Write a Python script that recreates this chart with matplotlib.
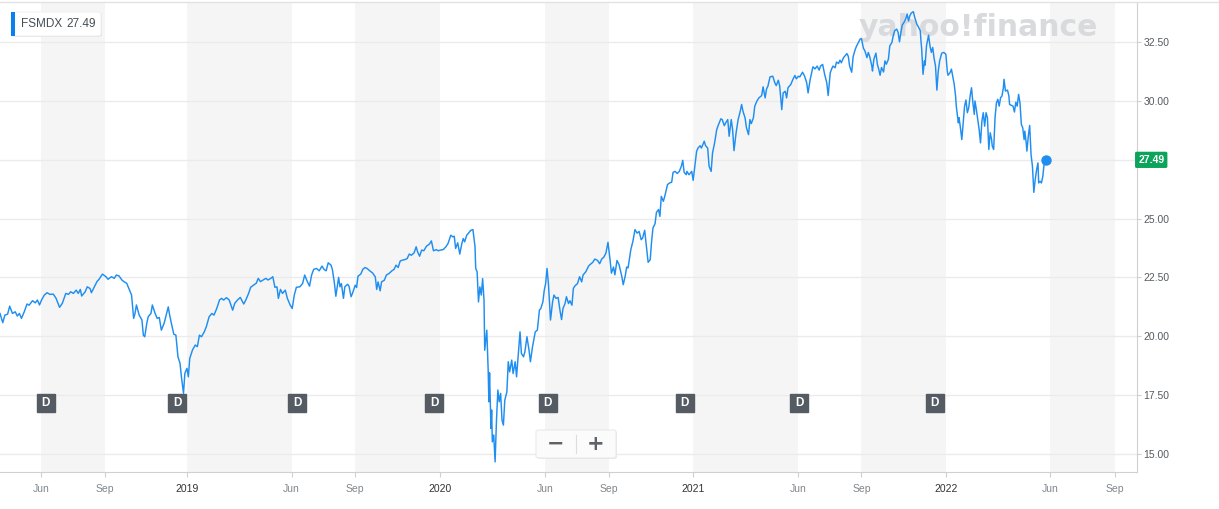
"""FSMDX price chart, Yahoo Finance style."""
import pandas as pd, numpy as np
import matplotlib; matplotlib.use('Agg'); import matplotlib.pyplot as plt
from matplotlib.patches import FancyBboxPatch, Rectangle
from matplotlib.transforms import blended_transform_factory
from matplotlib.lines import Line2D

W, H = 1219, 509
BLUE = '#1f8ef1'; GREEN = '#0ca35a'; BAND = '#f5f5f5'; GRID = '#ebebeb'; SPINE = '#d0d0d0'
plt.rcParams.update({'font.family': ['Liberation Sans', 'DejaVu Sans'], 'font.size': 8})

# ---- data ----
ticker = 'FSMDX'
last_price = 27.49
start = pd.Timestamp('2018-04-06')
day_offset = [
    0, 4, 7, 11, 14, 18, 22, 25, 28, 31, 35, 39, 42, 47, 51, 54, 57, 60, 64, 68, 72, 77, 81, 86, 90, 95, 99, 102, 106, 110,
    113, 116, 118, 123, 126, 130, 132, 136, 140, 143, 148, 153, 156, 161, 165, 168, 172, 176, 179, 183, 187, 190, 193, 195,
    197, 201, 205, 207, 209, 212, 214, 218, 220, 224, 227, 230, 233, 237, 240, 243, 245, 248, 251, 254, 257, 260, 262, 265,
    267, 270, 272, 274, 278, 282, 285, 288, 291, 295, 298, 302, 306, 309, 313, 317, 320, 323, 327, 331, 336, 339, 343, 347,
    349, 352, 355, 359, 362, 366, 370, 373, 376, 380, 384, 387, 391, 394, 397, 400, 402, 405, 408, 412, 415, 419, 422, 425,
    428, 433, 437, 440, 444, 447, 450, 453, 457, 461, 465, 468, 471, 474, 478, 480, 483, 485, 489, 491, 493, 496, 498, 502,
    504, 507, 509, 513, 515, 517, 521, 524, 527, 530, 534, 538, 542, 544, 546, 549, 551, 555, 558, 562, 566, 569, 572, 575,
    578, 581, 585, 588, 591, 594, 598, 601, 603, 606, 609, 612, 616, 620, 623, 626, 630, 633, 636, 640, 644, 647, 651, 654,
    656, 658, 661, 664, 667, 669, 671, 674, 676, 680, 683, 686, 687, 689, 691, 693, 695, 697, 699, 700, 703, 705, 706, 707,
    709, 710, 711, 713, 715, 717, 719, 721, 723, 725, 727, 729, 732, 734, 736, 739, 741, 744, 746, 748, 751, 753, 756, 758,
    761, 764, 766, 769, 773, 776, 779, 781, 784, 786, 788, 790, 792, 795, 798, 800, 803, 806, 809, 811, 813, 816, 818, 821,
    823, 826, 828, 830, 834, 837, 840, 842, 846, 850, 852, 856, 859, 863, 866, 869, 872, 875, 878, 881, 883, 886, 888, 891,
    894, 898, 900, 903, 905, 907, 911, 914, 917, 920, 923, 926, 928, 931, 933, 936, 939, 941, 943, 946, 948, 951, 953, 955,
    958, 960, 964, 967, 970, 972, 975, 978, 981, 984, 986, 988, 991, 992, 995, 999, 1001, 1004, 1006, 1008, 1011, 1013, 1017,
    1019, 1022, 1024, 1027, 1029, 1032, 1035, 1037, 1041, 1043, 1046, 1048, 1051, 1053, 1056, 1058, 1060, 1063, 1066, 1069,
    1071, 1073, 1076, 1078, 1081, 1083, 1085, 1088, 1090, 1093, 1096, 1100, 1102, 1105, 1107, 1109, 1112, 1116, 1119, 1121,
    1124, 1126, 1129, 1131, 1134, 1136, 1138, 1142, 1145, 1148, 1150, 1153, 1155, 1159, 1162, 1165, 1167, 1170, 1172, 1174,
    1177, 1180, 1183, 1185, 1188, 1191, 1194, 1196, 1199, 1201, 1203, 1206, 1208, 1211, 1213, 1215, 1218, 1220, 1223, 1225,
    1227, 1230, 1232, 1235, 1237, 1239, 1242, 1244, 1247, 1249, 1252, 1254, 1256, 1259, 1260, 1262, 1265, 1267, 1269, 1271,
    1273, 1276, 1278, 1280, 1283, 1285, 1288, 1290, 1292, 1295, 1297, 1299, 1301, 1303, 1306, 1308, 1310, 1312, 1314, 1316,
    1319, 1321, 1324, 1326, 1329, 1330, 1331, 1333, 1335, 1336, 1338, 1341, 1343, 1345, 1347, 1349, 1351, 1353, 1355, 1357,
    1360, 1363, 1366, 1368, 1369, 1372, 1374, 1376, 1378, 1380, 1381, 1384, 1385, 1387, 1389, 1391, 1393, 1395, 1397, 1399,
    1401, 1403, 1405, 1407, 1408, 1410, 1412, 1414, 1416, 1418, 1420, 1422, 1424, 1426, 1428, 1430, 1432, 1433, 1435, 1437,
    1439, 1441, 1443, 1445, 1447, 1449, 1450, 1452, 1455, 1457, 1458, 1461, 1463, 1465, 1467, 1469, 1471, 1473, 1475, 1477,
    1479, 1480, 1482, 1483, 1485, 1487, 1489, 1491, 1493, 1495, 1497, 1499, 1500, 1502, 1504, 1506, 1508, 1510]
price = [
    20.97, 20.58, 20.90, 20.94, 21.28, 20.97, 21.04, 20.86, 20.97, 20.76, 21.04, 21.37, 21.32, 21.51, 21.42, 21.54, 21.33,
    21.54, 21.75, 21.85, 21.78, 21.79, 21.61, 21.23, 21.40, 21.82, 21.78, 21.89, 21.82, 21.96, 21.82, 21.99, 21.71, 21.89,
    22.10, 22.03, 21.85, 22.08, 22.32, 22.42, 22.64, 22.53, 22.42, 22.53, 22.46, 22.60, 22.56, 22.39, 22.32, 22.25, 21.96,
    21.75, 20.76, 20.97, 21.33, 20.90, 20.69, 20.05, 19.98, 20.55, 20.83, 20.97, 21.33, 20.97, 20.76, 20.80, 20.26, 20.55,
    20.90, 21.25, 20.90, 20.48, 20.09, 20.05, 19.13, 18.85, 18.28, 17.58, 18.43, 18.64, 18.28, 19.06, 19.42, 19.63, 19.56,
    20.05, 19.98, 20.19, 20.41, 20.83, 20.97, 20.90, 21.18, 21.54, 21.61, 21.54, 21.64, 21.54, 21.11, 21.40, 21.54, 21.65,
    21.54, 21.37, 21.54, 21.82, 22.08, 22.17, 22.25, 22.46, 22.32, 22.39, 22.46, 22.39, 22.46, 22.53, 22.08, 22.10, 21.61,
    21.99, 21.82, 21.96, 21.61, 21.33, 21.18, 21.75, 22.08, 22.10, 22.24, 22.60, 22.31, 22.13, 22.60, 22.84, 22.88, 22.78,
    22.98, 22.84, 22.78, 23.12, 23.02, 22.84, 22.24, 21.70, 22.50, 22.10, 22.24, 21.61, 22.10, 22.21, 22.13, 21.68, 21.82,
    22.17, 22.07, 22.55, 22.64, 22.84, 22.92, 22.88, 22.78, 22.69, 22.52, 21.99, 22.31, 21.93, 22.31, 22.38, 22.60, 22.67,
    22.78, 22.84, 23.02, 22.92, 23.20, 23.23, 23.26, 23.30, 23.49, 23.44, 23.54, 23.80, 23.59, 23.40, 23.66, 23.63, 23.83,
    23.91, 24.05, 23.63, 23.68, 23.63, 23.66, 23.68, 23.80, 23.94, 24.29, 24.22, 24.25, 23.73, 23.97, 23.49, 23.94, 24.15,
    24.01, 24.29, 24.36, 24.50, 24.53, 23.80, 22.88, 22.74, 21.46, 22.10, 21.75, 22.45, 21.53, 19.41, 20.26, 18.56, 17.22,
    18.45, 16.09, 16.87, 15.52, 15.81, 14.67, 16.44, 17.72, 17.22, 17.58, 16.44, 16.23, 17.29, 17.64, 18.92, 18.49, 18.99,
    18.42, 18.92, 18.28, 19.06, 20.19, 19.27, 19.13, 19.34, 19.98, 19.41, 18.92, 19.55, 20.19, 20.26, 21.11, 21.18, 21.46,
    21.96, 22.24, 22.88, 22.24, 20.69, 21.46, 21.75, 21.61, 21.65, 21.04, 20.71, 21.18, 21.39, 21.68, 21.39, 21.51, 21.32,
    22.03, 22.13, 22.24, 22.53, 22.31, 22.60, 22.74, 22.98, 23.04, 23.14, 23.28, 23.22, 23.08, 23.28, 23.36, 23.53, 23.99,
    23.25, 22.68, 22.94, 22.61, 23.22, 23.04, 22.54, 22.19, 22.57, 22.94, 22.90, 23.68, 24.03, 24.53, 24.38, 24.45, 24.10,
    24.17, 24.50, 23.96, 23.14, 23.25, 24.03, 24.60, 24.78, 25.26, 25.38, 25.09, 25.94, 25.73, 25.94, 26.44, 26.51, 26.54,
    26.96, 27.00, 26.91, 27.00, 27.22, 27.47, 26.96, 26.86, 27.00, 26.86, 27.00, 26.62, 27.36, 27.85, 27.99, 28.09, 27.99,
    28.28, 28.09, 27.99, 27.22, 27.00, 27.78, 28.21, 28.77, 28.94, 29.23, 29.20, 28.94, 29.06, 29.20, 28.49, 29.20, 28.77,
    27.88, 28.63, 29.20, 29.55, 29.84, 29.55, 29.27, 28.85, 28.56, 29.20, 29.03, 29.27, 29.77, 29.98, 30.12, 30.22, 30.59,
    30.12, 30.50, 30.62, 31.01, 31.04, 30.76, 30.64, 30.87, 30.62, 29.62, 30.33, 30.40, 30.12, 30.55, 30.69, 30.90, 31.07,
    30.93, 31.04, 31.01, 31.21, 31.04, 30.76, 30.33, 30.90, 31.18, 31.44, 31.35, 31.47, 31.30, 31.47, 31.54, 31.11, 30.76,
    30.22, 31.18, 31.35, 31.47, 31.40, 31.64, 31.58, 31.72, 31.61, 31.82, 31.89, 32.00, 31.89, 31.47, 31.21, 31.86, 32.17,
    32.32, 32.43, 32.61, 32.64, 32.22, 32.12, 31.83, 32.05, 31.87, 31.48, 31.26, 31.76, 32.02, 31.55, 31.34, 31.08, 31.41,
    31.22, 31.69, 31.55, 31.76, 32.33, 32.47, 32.76, 32.97, 33.04, 32.90, 32.50, 32.90, 33.21, 33.35, 33.47, 33.68, 33.39,
    33.61, 33.72, 33.78, 33.54, 33.25, 33.15, 32.97, 32.54, 32.22, 31.12, 31.69, 31.51, 32.33, 32.78, 32.33, 32.05, 32.26,
    31.79, 31.48, 30.45, 31.26, 31.69, 32.02, 32.05, 31.97, 31.26, 31.08, 31.19, 31.34, 31.02, 30.70, 30.20, 29.77, 29.06,
    29.28, 28.85, 28.35, 29.06, 29.77, 30.03, 29.49, 29.70, 30.20, 30.55, 29.91, 29.42, 29.99, 29.63, 29.20, 28.78, 28.21,
    29.13, 29.49, 28.92, 29.49, 29.28, 27.93, 28.64, 28.35, 28.07, 27.93, 29.28, 29.91, 30.06, 29.77, 30.13, 30.20, 30.55,
    30.91, 30.41, 30.45, 30.20, 29.84, 29.80, 29.77, 29.52, 29.94, 29.77, 30.27, 29.91, 28.99, 28.85, 28.35, 28.71, 28.21,
    27.86, 28.49, 28.95, 27.71, 27.22, 26.11, 26.65, 27.07, 27.36, 26.51, 26.58, 26.51, 26.79, 27.36, 27.49]
dividend_dates = ['2018-06-11', '2018-12-18', '2019-06-09', '2019-12-24',
                  '2020-06-05', '2020-12-20', '2021-06-03', '2021-12-16']
tick_dates = ['2018-06-04', '2018-09-05', '2019-01-01', '2019-06-01', '2019-09-01', '2020-01-01', '2020-06-01',
              '2020-09-01', '2021-01-01', '2021-06-01', '2021-09-01', '2022-01-01', '2022-06-01', '2022-09-02']
tick_labels = ['Jun', 'Sep', '2019', 'Jun', 'Sep', '2020', 'Jun', 'Sep', '2021', 'Jun', 'Sep', '2022', 'Jun', 'Sep']
y_ticks = [15.0, 17.5, 20.0, 22.5, 25.0, 27.5, 30.0, 32.5]

dates = start + pd.to_timedelta(day_offset, unit='D')
tdates = pd.to_datetime(tick_dates)

def fx(px): return px / W
def fy(py): return 1 - py / H

fig = plt.figure(figsize=(W / 100, H / 100), dpi=100)
ax = fig.add_axes([0, fy(472), fx(1137), fy(2) - fy(472)])
ax.set_xlim(start, pd.Timestamp('2022-10-04')); ax.set_ylim(14.24, 34.19)

# alternating period bands
for i in range(0, len(tdates) - 1, 2):
    ax.axvspan(tdates[i], tdates[i + 1], color=BAND, lw=0, zorder=0)
ax.set_axisbelow(True)
ax.set_yticks(y_ticks)
# the last-price badge sits where the 27.50 label would be
ax.set_yticklabels(['' if abs(v - last_price) < 1 else f'{v:.2f}' for v in y_ticks])
ax.yaxis.grid(True, color=GRID, lw=1)
ax.yaxis.tick_right()
ax.tick_params(axis='y', length=3, width=0.8, color=SPINE, pad=1.5, labelsize=7.5, labelcolor='#555b61')
ax.set_xticks(tdates); ax.set_xticklabels(tick_labels)
ax.tick_params(axis='x', length=3.6, width=0.8, color=SPINE, pad=5, labelsize=7.5, labelcolor='#80868b')
for lab in ax.get_xticklabels():
    if lab.get_text().isdigit(): lab.set_color('#333333')
for s in ['top', 'left']: ax.spines[s].set_visible(False)
for s in ['right', 'bottom']: ax.spines[s].set_color(SPINE); ax.spines[s].set_linewidth(0.8)

# watermark
ax.text(0.86, 0.945, 'yahoo!finance', transform=ax.transAxes, ha='center', va='center', fontsize=21.5,
        fontweight='bold', family='DejaVu Sans', color='#d9dadd', zorder=1.5)

ax.plot(dates, price, color=BLUE, lw=1.05, zorder=3)
ax.plot(dates[-1], price[-1], 'o', ms=6.5, color=BLUE, zorder=6)

# dividend markers
tr = blended_transform_factory(ax.transData, ax.transAxes)
dd = pd.to_datetime(dividend_dates)
ax.plot(dd, [0.147] * len(dd), 's', ms=12.5, color='#555b62', transform=tr, zorder=5, clip_on=False)
for d in dd:
    ax.text(d, 0.147, 'D', transform=tr, ha='center', va='center', color='white', fontsize=8.5,
            fontweight='bold', zorder=6)

# last price badge
trb = blended_transform_factory(ax.transAxes, ax.transData)
ax.text(1.0125, last_price, f'{last_price:.2f}', transform=trb, ha='center', va='center', color='white',
        fontsize=7.5, fontweight='bold', clip_on=False, zorder=7,
        bbox=dict(boxstyle='round,pad=0.3,rounding_size=0.15', fc=GREEN, ec='none'))

# legend chip
fig.add_artist(FancyBboxPatch((fx(12), fy(37)), fx(90), fy(12) - fy(36), boxstyle='round,pad=0,rounding_size=0.004',
                              transform=fig.transFigure, fc='#e6e6e6', ec='none', zorder=8))
fig.add_artist(FancyBboxPatch((fx(11), fy(36)), fx(90), fy(12) - fy(36), boxstyle='round,pad=0,rounding_size=0.004',
                              transform=fig.transFigure, fc='white', ec='#eeeeee', lw=0.6, zorder=9))
fig.add_artist(Rectangle((fx(11), fy(36)), fx(4), fy(12) - fy(36), transform=fig.transFigure, fc='#0a80f0',
                         ec='none', zorder=10))
fig.text(fx(21), fy(24), ticker, ha='left', va='center', fontsize=8.5, color='#464e56', zorder=11)
fig.text(fx(66), fy(24), f'{last_price:.2f}', ha='left', va='center', fontsize=8.5, color='#464e56', zorder=11)

# zoom buttons
fig.add_artist(FancyBboxPatch((fx(537), fy(459)), fx(80), fy(431) - fy(459), boxstyle='round,pad=0,rounding_size=0.003',
                              transform=fig.transFigure, fc='#ececec', ec='none', zorder=8))
fig.add_artist(FancyBboxPatch((fx(536), fy(458)), fx(80), fy(430) - fy(458), boxstyle='round,pad=0,rounding_size=0.003',
                              transform=fig.transFigure, fc='#fbfbfb', ec='#e4e4e4', lw=0.6, zorder=9))
fig.add_artist(Line2D([fx(576), fx(576)], [fy(453), fy(435)], transform=fig.transFigure, color='#dddddd', lw=0.8, zorder=10))
fig.text(fx(556), fy(444), '\u2212', ha='center', va='center', fontsize=15, fontweight='bold', color='#5f6368', zorder=11,
         family='DejaVu Sans')
fig.text(fx(596), fy(444), '+', ha='center', va='center', fontsize=15, fontweight='bold', color='#5f6368', zorder=11,
         family='DejaVu Sans')

# top border
fig.add_artist(Line2D([0, 1], [fy(1.5), fy(1.5)], transform=fig.transFigure, color='#e2e2e2', lw=1))

fig.savefig('out.png', dpi=100)
